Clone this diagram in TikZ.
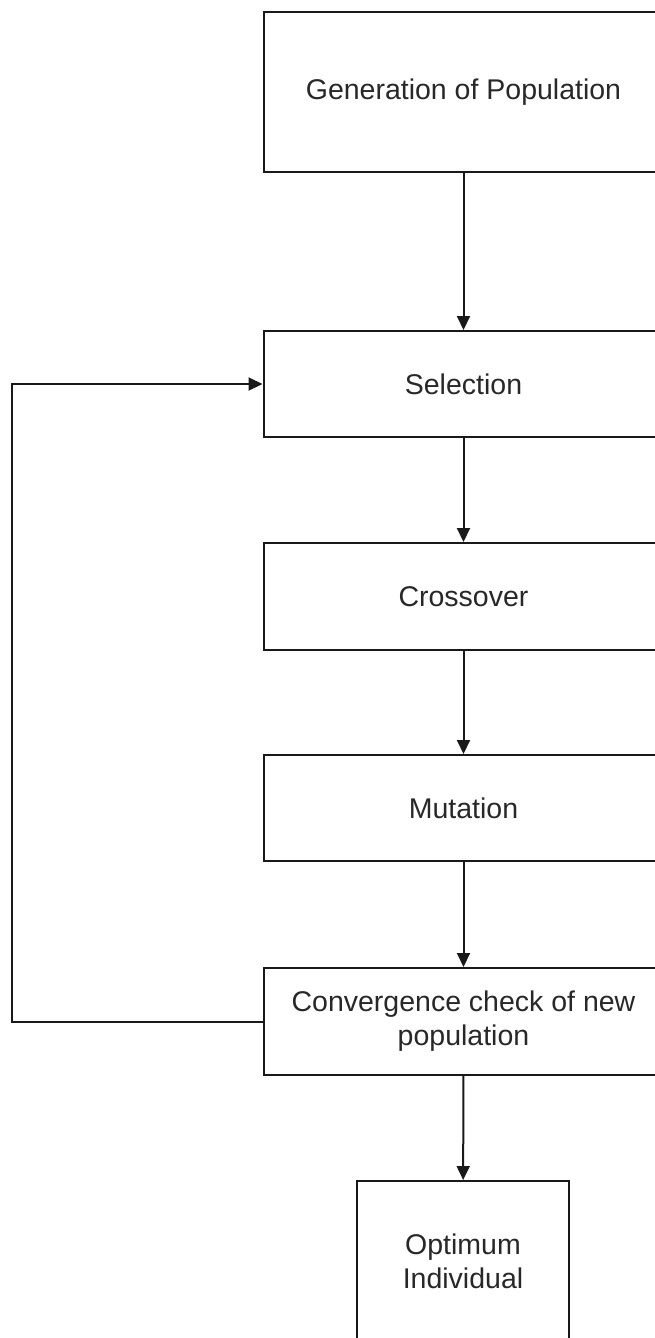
\documentclass[tikz,border=0pt]{standalone}
\usepackage{fontspec}
\setmainfont{Liberation Sans}
\usepackage{tikz}
\usetikzlibrary{arrows.meta, positioning}
\definecolor{boxline}{RGB}{25, 25, 25}
\definecolor{boxtext}{RGB}{40, 40, 40}

\begin{document}
\begin{tikzpicture}[x=1pt, y=-1pt,
    stage/.style={draw=boxline, line width=2pt, fill=white, text=boxtext, align=center,
      minimum width=400pt, font=\fontsize{28.5}{34}\selectfont},
    flow/.style={draw=boxline, line width=2pt, -{Triangle[length=14pt, width=13pt]}}]
  \useasboundingbox (0,0) rectangle (655,1338);
  \clip (0,0) rectangle (655,1338);
  \node[stage, minimum height=160pt] (gen) at (463.5,92) {Generation of Population};
  \node[stage, minimum height=106pt] (sel) at (463.5,384) {Selection};
  \node[stage, minimum height=107pt] (cross) at (463.5,596.5) {Crossover};
  \node[stage, minimum height=106pt] (mut) at (463.5,808) {Mutation};
  \node[stage, minimum height=107pt] (conv) at (463.5,1021.5) {Convergence check of new\\population};
  \node[stage, minimum width=212pt, minimum height=160pt] (opt) at (463,1261) {Optimum\\Individual};
  \coordinate (back) at (12,1021.5);
  \draw[flow] (gen) -- (sel);
  \draw[flow] (sel) -- (cross);
  \draw[flow] (cross) -- (mut);
  \draw[flow] (mut) -- (conv);
  \draw[flow] (conv) -- (opt);
  \draw[flow] (conv.west) -- (back) |- (sel.west);
\end{tikzpicture}
\end{document}
